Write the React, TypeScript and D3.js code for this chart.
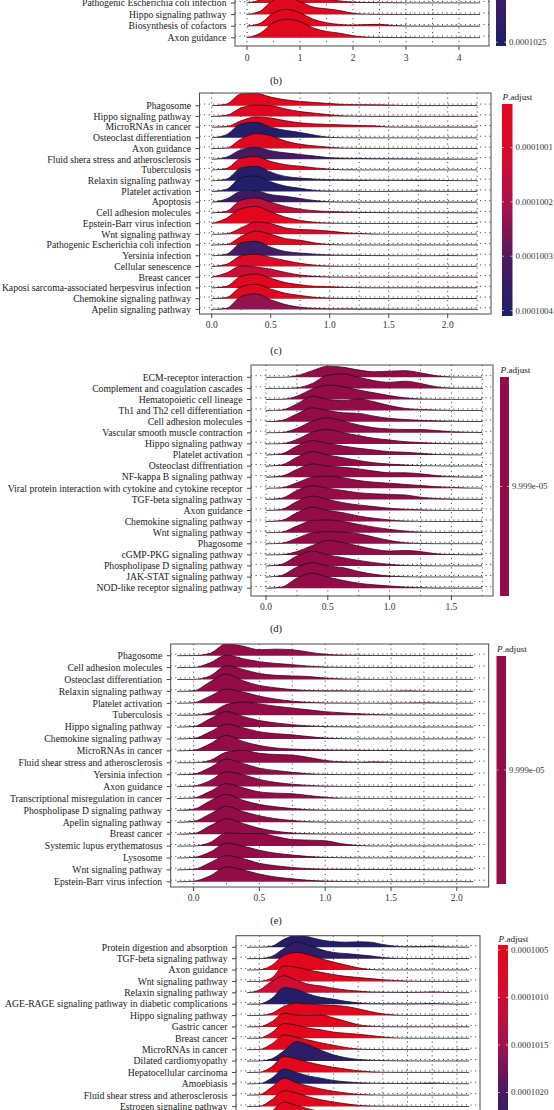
import React, { useEffect, useRef } from 'react';
import * as d3 from 'd3';

const FONT = "'Liberation Serif', 'Times New Roman', serif";

// ---------------- Panel (b) (top, partly cut off) ----------------
const bTerms = [
  'Pathogenic Escherichia coli infection',
  'Hippo signaling pathway',
  'Biosynthesis of cofactors',
  'Axon guidance',
];
const bPadjust = [0.0001001, 0.0001001, 0.0001001, 0.0001001];
const bXs = [0, 0.25, 0.5, 0.75, 1, 1.25, 1.5, 1.75, 2, 2.25, 2.5, 2.75, 3, 3.25, 3.5, 3.75, 4, 4.25, 4.4];
const bRidges = [
  [0.01, 0.3, 1.3, 1.6, 1.2, 0.65, 0.35, 0.18, 0.08, 0.04, 0.03, 0.02, 0.01, 0.01, 0.01, 0.01, 0.01, 0.01, 0.01],
  [0.01, 0.3, 1.25, 1.5, 1.1, 0.65, 0.5, 0.35, 0.12, 0.04, 0.02, 0.02, 0.01, 0.01, 0.01, 0.01, 0.01, 0.01, 0.01],
  [0.01, 0.25, 1.15, 1.45, 1.15, 0.6, 0.3, 0.15, 0.1, 0.14, 0.16, 0.06, 0.02, 0.01, 0.01, 0.01, 0.01, 0.01, 0.01],
  [0.02, 0.4, 1.3, 1.6, 1.4, 0.85, 0.55, 0.4, 0.18, 0.06, 0.03, 0.02, 0.02, 0.01, 0.01, 0.01, 0.01, 0.01, 0.01],
];
const bTicks = [0, 1, 2, 3, 4];
const bGrid = [0, 0.5, 1, 1.5, 2, 2.5, 3, 3.5, 4];
const bLegend = [0.0001025];

// ---------------- Panel (c) ----------------
const cTerms = [
  'Phagosome',
  'Hippo signaling pathway',
  'MicroRNAs in cancer',
  'Osteoclast differentiation',
  'Axon guidance',
  'Fluid shera stress and atherosclerosis',
  'Tuberculosis',
  'Relaxin signaling pathway',
  'Platelet activation',
  'Apoptosis',
  'Cell adhesion molecules',
  'Epstein-Barr virus infection',
  'Wnt signaling pathway',
  'Pathogenic Escherichia coli infection',
  'Yersinia infection',
  'Cellular senescence',
  'Breast cancer',
  'Kaposi sarcoma-associated herpesvirus infection',
  'Chemokine signaling pathway',
  'Apelin signaling pathway',
];
const cPadjust = [
  0.000100032, 0.000100055, 0.000100043, 0.000100394, 0.000100047,
  0.000100324, 0.000100051, 0.000100387, 0.000100398, 0.00010034,
  0.000100157, 0.000100028, 0.00010009, 0.000100036, 0.000100332,
  0.000100082, 0.000100137, 0.00010004, 0.000100043, 0.000100235,
];
const cXs = [0, 0.125, 0.25, 0.375, 0.5, 0.625, 0.75, 0.875, 1, 1.125, 1.25, 1.375, 1.5, 1.625, 1.75, 1.875, 2, 2.125, 2.25];
const cRidges = [
  [0, 0.15, 1.1, 1.15, 0.8, 0.55, 0.4, 0.3, 0.2, 0.12, 0.1, 0.08, 0.06, 0.02, 0.01, 0.01, 0.01, 0.01, 0.01],
  [0, 0.1, 0.8, 1.05, 1.0, 0.7, 0.45, 0.3, 0.15, 0.05, 0.02, 0.01, 0.01, 0.01, 0.01, 0.01, 0.01, 0.01, 0.01],
  [0, 0.05, 0.6, 0.95, 0.85, 0.6, 0.4, 0.3, 0.25, 0.2, 0.15, 0.12, 0.02, 0.01, 0.01, 0.01, 0.01, 0.01, 0.01],
  [0, 0.3, 1.3, 1.45, 1.0, 0.7, 0.5, 0.25, 0.05, 0.01, 0, 0, 0, 0, 0, 0, 0, 0, 0],
  [0, 0.05, 0.9, 1.4, 1.2, 0.7, 0.4, 0.25, 0.12, 0.04, 0.02, 0.01, 0.01, 0.01, 0.01, 0.01, 0.01, 0.01, 0.01],
  [0, 0.2, 0.9, 1.1, 0.8, 0.6, 0.45, 0.3, 0.15, 0.1, 0.08, 0.06, 0.05, 0.04, 0.03, 0.03, 0.02, 0.02, 0.01],
  [0, 0.15, 1.1, 1.25, 0.8, 0.5, 0.35, 0.2, 0.08, 0.02, 0.01, 0.01, 0.01, 0.01, 0.01, 0.01, 0.01, 0.01, 0.01],
  [0, 0.15, 1.2, 1.35, 0.8, 0.4, 0.25, 0.15, 0.1, 0.08, 0.06, 0.05, 0.05, 0.04, 0.06, 0.04, 0.02, 0.01, 0.01],
  [0, 0.2, 1.3, 1.45, 0.9, 0.5, 0.3, 0.1, 0.04, 0.02, 0.01, 0.01, 0.01, 0.02, 0.05, 0.02, 0.01, 0.01, 0.01],
  [0, 0.3, 1.0, 1.05, 0.7, 0.55, 0.35, 0.15, 0.04, 0.01, 0.01, 0.01, 0.01, 0.01, 0.01, 0.01, 0.01, 0.01, 0.01],
  [0, 0.15, 1.2, 1.4, 1.0, 0.6, 0.35, 0.2, 0.12, 0.08, 0.05, 0.03, 0.02, 0.01, 0.01, 0.01, 0.01, 0.01, 0.01],
  [0, 0.5, 1.4, 1.6, 1.1, 0.6, 0.3, 0.12, 0.05, 0.02, 0.01, 0.01, 0.01, 0.01, 0.01, 0.01, 0.01, 0.01, 0.01],
  [0, 0.05, 0.6, 1.15, 1.0, 0.6, 0.45, 0.4, 0.3, 0.15, 0.08, 0.03, 0.01, 0.01, 0.01, 0.01, 0.01, 0.01, 0.01],
  [0, 0.05, 0.8, 1.3, 1.0, 0.6, 0.45, 0.2, 0.05, 0.01, 0.01, 0.01, 0.01, 0.01, 0.01, 0.01, 0.01, 0.01, 0.01],
  [0, 0.15, 1.2, 1.35, 0.8, 0.4, 0.25, 0.15, 0.08, 0.05, 0.03, 0.02, 0.01, 0.01, 0.01, 0.01, 0.02, 0.01, 0.01],
  [0, 0.2, 1.0, 1.15, 0.85, 0.55, 0.3, 0.12, 0.04, 0.01, 0.01, 0.01, 0.01, 0.01, 0.01, 0.01, 0.01, 0.01, 0.01],
  [0, 0.4, 1.05, 0.95, 0.75, 0.45, 0.2, 0.08, 0.03, 0.01, 0.01, 0.01, 0.01, 0.01, 0.01, 0.01, 0.01, 0.01, 0.01],
  [0, 0.15, 1.1, 1.3, 0.9, 0.5, 0.3, 0.15, 0.12, 0.05, 0.02, 0.01, 0.01, 0.01, 0.01, 0.01, 0.01, 0.01, 0.01],
  [0, 0.1, 1.1, 1.35, 0.9, 0.5, 0.3, 0.12, 0.05, 0.02, 0.01, 0.01, 0.01, 0.01, 0.01, 0.01, 0.01, 0.01, 0.01],
  [0, 0.1, 1.2, 1.45, 0.9, 0.45, 0.2, 0.1, 0.05, 0.05, 0.04, 0.04, 0.03, 0.02, 0.01, 0.01, 0.01, 0.01, 0.01],
];
const cTicks = [0, 0.5, 1, 1.5, 2];
const cGrid = [0, 0.25, 0.5, 0.75, 1, 1.25, 1.5, 1.75, 2, 2.25];
const cLegend = [0.0001001, 0.0001002, 0.0001003, 0.0001004];

// ---------------- Panel (d) ----------------
const dTerms = [
  'ECM-receptor interaction',
  'Complement and coagulation cascades',
  'Hematopoietic cell lineage',
  'Th1 and Th2 cell differentiation',
  'Cell adhesion molecules',
  'Vascular smooth muscle contraction',
  'Hippo signaling pathway',
  'Platelet activation',
  'Osteoclast diffrentiation',
  'NF-kappa B signaling pathway',
  'Viral protein interaction with cytokine and cytokine receptor',
  'TGF-beta signaling pathway',
  'Axon guidance',
  'Chemokine signaling pathway',
  'Wnt signaling pathway',
  'Phagosome',
  'cGMP-PKG signaling pathway',
  'Phospholipase D signaling pathway',
  'JAK-STAT signaling pathway',
  'NOD-like receptor signaling pathway',
];
const dPadjust = new Array(20).fill(0.00009999);
const dXs = [0, 0.125, 0.25, 0.375, 0.5, 0.625, 0.75, 0.875, 1, 1.125, 1.25, 1.375, 1.5, 1.625, 1.75];
const dRidges = [
  [0, 0, 0.15, 0.6, 1.0, 0.9, 0.65, 0.5, 0.55, 0.6, 0.4, 0.15, 0.03, 0.01, 0.01],
  [0, 0, 0.05, 0.45, 1.2, 1.3, 1.0, 0.7, 0.55, 0.65, 0.45, 0.15, 0.03, 0.01, 0.01],
  [0, 0.02, 0.3, 0.95, 1.3, 1.15, 0.85, 0.6, 0.35, 0.15, 0.05, 0.02, 0.01, 0.01, 0.01],
  [0, 0.05, 0.6, 1.3, 1.0, 0.9, 1.05, 0.8, 0.45, 0.2, 0.1, 0.05, 0.02, 0.01, 0.01],
  [0, 0.1, 0.7, 1.25, 1.0, 0.8, 0.75, 0.5, 0.3, 0.2, 0.12, 0.08, 0.05, 0.02, 0.01],
  [0, 0.02, 0.4, 1.05, 1.35, 1.05, 0.7, 0.45, 0.35, 0.3, 0.3, 0.2, 0.1, 0.05, 0.02],
  [0, 0.02, 0.4, 1.05, 1.3, 1.0, 0.75, 0.5, 0.35, 0.2, 0.12, 0.05, 0.02, 0.01, 0.01],
  [0, 0.1, 0.8, 1.3, 1.05, 0.8, 0.6, 0.45, 0.3, 0.25, 0.15, 0.05, 0.02, 0.01, 0.01],
  [0, 0.1, 0.8, 1.3, 1.0, 0.75, 0.5, 0.3, 0.18, 0.1, 0.04, 0.02, 0.01, 0.01, 0.01],
  [0, 0.1, 0.7, 1.2, 1.0, 0.9, 0.75, 0.55, 0.4, 0.4, 0.3, 0.15, 0.05, 0.02, 0.01],
  [0, 0.05, 0.5, 1.0, 1.1, 0.95, 0.7, 0.55, 0.45, 0.35, 0.25, 0.15, 0.08, 0.03, 0.01],
  [0, 0.1, 0.8, 1.25, 1.0, 0.8, 0.6, 0.5, 0.45, 0.4, 0.2, 0.08, 0.03, 0.01, 0.01],
  [0, 0.1, 0.8, 1.3, 1.0, 0.7, 0.5, 0.35, 0.2, 0.12, 0.06, 0.02, 0.01, 0.01, 0.01],
  [0, 0.1, 0.8, 1.3, 1.0, 0.8, 0.5, 0.3, 0.15, 0.05, 0.02, 0.01, 0.01, 0.01, 0.01],
  [0, 0.05, 0.6, 1.1, 1.15, 1.0, 0.75, 0.5, 0.3, 0.15, 0.05, 0.02, 0.01, 0.01, 0.01],
  [0, 0.05, 0.5, 1.0, 1.1, 1.05, 0.9, 0.6, 0.3, 0.1, 0.03, 0.01, 0.01, 0.01, 0.01],
  [0, 0.02, 0.3, 0.85, 1.3, 1.1, 0.8, 0.5, 0.35, 0.4, 0.3, 0.1, 0.03, 0.01, 0.01],
  [0, 0.15, 0.9, 1.35, 1.0, 0.75, 0.5, 0.3, 0.15, 0.05, 0.02, 0.01, 0.01, 0.01, 0.01],
  [0, 0.15, 0.9, 1.3, 1.0, 0.85, 0.5, 0.25, 0.1, 0.03, 0.01, 0.01, 0.01, 0.01, 0.01],
  [0, 0.1, 0.9, 1.35, 1.0, 0.7, 0.45, 0.3, 0.2, 0.1, 0.05, 0.02, 0.01, 0.01, 0.01],
];
const dTicks = [0, 0.5, 1, 1.5];
const dGrid = [0, 0.25, 0.5, 0.75, 1, 1.25, 1.5, 1.75];
const dLegend = [0.00009999];

// ---------------- Panel (e) ----------------
const eTerms = [
  'Phagosome',
  'Cell adhesion molecules',
  'Osteoclast differentiation',
  'Relaxin signaling pathway',
  'Platelet activation',
  'Tuberculosis',
  'Hippo signaling pathway',
  'Chemokine signaling pathway',
  'MicroRNAs in cancer',
  'Fluid shear stress and atherosclerosis',
  'Yersinia infection',
  'Axon guidance',
  'Transcriptional misregulation in cancer',
  'Phospholipase D signaling pathway',
  'Apelin signaling pathway',
  'Breast cancer',
  'Systemic lupus erythematosus',
  'Lysosome',
  'Wnt signaling pathway',
  'Epstein-Barr virus infection',
];
const ePadjust = new Array(20).fill(0.00009999);
const eXs = [-0.125, 0, 0.125, 0.25, 0.375, 0.5, 0.625, 0.75, 0.875, 1, 1.125, 1.25, 1.375, 1.5, 1.625, 1.75, 1.875, 2, 2.125];
const eRidges = [
  [0, 0.01, 0.2, 1.0, 0.8, 0.5, 0.55, 0.5, 0.3, 0.12, 0.05, 0.03, 0.02, 0.01, 0.01, 0.01, 0.01, 0.01, 0.01],
  [0, 0.01, 0.4, 1.05, 0.75, 0.5, 0.35, 0.25, 0.12, 0.05, 0.02, 0.01, 0.01, 0.01, 0.01, 0.01, 0.01, 0.01, 0.01],
  [0, 0.01, 0.3, 1.15, 0.85, 0.5, 0.35, 0.3, 0.25, 0.12, 0.05, 0.02, 0.01, 0.01, 0.01, 0.01, 0.01, 0.01, 0.01],
  [0, 0.05, 0.8, 1.45, 0.9, 0.5, 0.3, 0.15, 0.08, 0.05, 0.06, 0.03, 0.01, 0.02, 0.05, 0.02, 0.01, 0.01, 0.01],
  [0, 0.05, 0.6, 1.2, 0.95, 0.6, 0.35, 0.18, 0.08, 0.03, 0.02, 0.01, 0.01, 0.02, 0.03, 0.04, 0.02, 0.01, 0.01],
  [0, 0.01, 0.2, 0.9, 1.1, 0.95, 0.75, 0.6, 0.45, 0.3, 0.2, 0.12, 0.05, 0.02, 0.01, 0.01, 0.01, 0.01, 0.01],
  [0, 0.05, 0.7, 1.3, 0.9, 0.55, 0.35, 0.2, 0.1, 0.04, 0.02, 0.01, 0.01, 0.01, 0.01, 0.01, 0.01, 0.01, 0.01],
  [0, 0.05, 0.6, 1.25, 0.95, 0.6, 0.45, 0.35, 0.2, 0.08, 0.03, 0.01, 0.01, 0.01, 0.01, 0.01, 0.01, 0.01, 0.01],
  [0, 0.05, 0.6, 1.3, 0.8, 0.45, 0.25, 0.15, 0.1, 0.08, 0.06, 0.05, 0.04, 0.03, 0.02, 0.01, 0.01, 0.01, 0.01],
  [0, 0.01, 0.2, 0.9, 1.05, 0.8, 0.7, 0.65, 0.45, 0.2, 0.08, 0.05, 0.08, 0.05, 0.02, 0.01, 0.01, 0.01, 0.01],
  [0, 0.05, 0.6, 1.3, 0.95, 0.55, 0.35, 0.2, 0.08, 0.02, 0.01, 0.01, 0.01, 0.01, 0.01, 0.01, 0.01, 0.01, 0.01],
  [0, 0.05, 0.5, 1.25, 1.0, 0.6, 0.35, 0.2, 0.1, 0.04, 0.01, 0.01, 0.01, 0.01, 0.01, 0.01, 0.01, 0.01, 0.01],
  [0, 0.05, 0.6, 1.25, 0.9, 0.55, 0.45, 0.4, 0.25, 0.1, 0.03, 0.01, 0.01, 0.01, 0.01, 0.01, 0.01, 0.01, 0.01],
  [0, 0.1, 0.8, 1.35, 0.85, 0.5, 0.3, 0.15, 0.06, 0.02, 0.01, 0.01, 0.01, 0.01, 0.01, 0.01, 0.01, 0.01, 0.01],
  [0, 0.08, 0.7, 1.35, 0.9, 0.55, 0.3, 0.15, 0.05, 0.02, 0.01, 0.01, 0.01, 0.01, 0.01, 0.01, 0.01, 0.01, 0.01],
  [0, 0.05, 0.7, 1.3, 0.9, 0.5, 0.25, 0.1, 0.04, 0.02, 0.01, 0.01, 0.01, 0.01, 0.01, 0.01, 0.01, 0.01, 0.01],
  [0, 0.01, 0.3, 1.1, 1.05, 1.05, 0.8, 0.55, 0.5, 0.45, 0.2, 0.05, 0.01, 0.01, 0.01, 0.01, 0.01, 0.01, 0.01],
  [0, 0.05, 0.5, 1.25, 1.0, 0.65, 0.4, 0.25, 0.12, 0.05, 0.02, 0.01, 0.01, 0.01, 0.01, 0.01, 0.01, 0.01, 0.01],
  [0, 0.05, 0.6, 1.2, 0.95, 0.55, 0.35, 0.2, 0.1, 0.06, 0.05, 0.04, 0.04, 0.04, 0.03, 0.02, 0.01, 0.01, 0.01],
  [0, 0.05, 0.5, 1.25, 1.0, 0.65, 0.4, 0.25, 0.12, 0.06, 0.03, 0.01, 0.01, 0.01, 0.01, 0.01, 0.01, 0.01, 0.01],
];
const eTicks = [0, 0.5, 1, 1.5, 2];
const eGrid = [0, 0.25, 0.5, 0.75, 1, 1.25, 1.5, 1.75, 2];
const eLegend = [0.00009999];

// ---------------- Panel (f) (bottom, partly cut off) ----------------
const fTerms = [
  'Protein digestion and absorption',
  'TGF-beta signaling pathway',
  'Axon guidance',
  'Wnt signaling pathway',
  'Relaxin signaling pathway',
  'AGE-RAGE signaling pathway in diabetic complications',
  'Hippo signaling pathway',
  'Gastric cancer',
  'Breast cancer',
  'MicroRNAs in cancer',
  'Dilated cardiomyopathy',
  'Hepatocellular carcinoma',
  'Amoebiasis',
  'Fluid shear stress and atherosclerosis',
  'Estrogen signaling pathway',
];
// two further rows continue below the visible edge (their labels are outside the picture)
const fPadjust = [
  0.0001024, 0.0001023, 0.0001005, 0.0001006, 0.000101, 0.0001024, 0.0001005, 0.0001005, 0.0001005,
  0.0001005, 0.0001023, 0.0001005, 0.0001024, 0.0001005, 0.0001005, 0.0001005, 0.0001023,
];
const fXs = [-0.125, 0, 0.125, 0.25, 0.375, 0.5, 0.625, 0.75, 0.875, 1, 1.125, 1.25, 1.375, 1.5, 1.625, 1.75, 1.875, 2, 2.125];
const fRidges = [
  [0, 0.01, 0.1, 0.7, 1.05, 0.9, 0.65, 0.5, 0.45, 0.48, 0.45, 0.25, 0.1, 0.05, 0.06, 0.08, 0.04, 0.02, 0.01],
  [0, 0.01, 0.2, 0.9, 1.45, 1.2, 0.8, 0.55, 0.45, 0.35, 0.25, 0.1, 0.03, 0.01, 0.01, 0.01, 0.01, 0.01, 0.01],
  [0, 0.02, 0.4, 1.3, 1.55, 1.35, 1.0, 0.7, 0.45, 0.2, 0.05, 0.01, 0.01, 0.01, 0.01, 0.01, 0.01, 0.01, 0.01],
  [0, 0.01, 0.3, 1.35, 1.25, 1.0, 0.8, 0.6, 0.45, 0.35, 0.25, 0.15, 0.08, 0.03, 0.01, 0.01, 0.01, 0.01, 0.01],
  [0, 0.25, 1.0, 1.5, 1.1, 0.75, 0.6, 0.4, 0.25, 0.15, 0.08, 0.05, 0.05, 0.04, 0.05, 0.08, 0.04, 0.01, 0.01],
  [0, 0.02, 0.5, 1.45, 1.3, 0.9, 0.6, 0.45, 0.25, 0.12, 0.05, 0.04, 0.03, 0.03, 0.04, 0.06, 0.03, 0.01, 0.01],
  [0, 0.01, 0.2, 0.8, 1.1, 1.0, 0.95, 0.9, 0.8, 0.6, 0.35, 0.15, 0.05, 0.01, 0.01, 0.01, 0.01, 0.01, 0.01],
  [0, 0.02, 0.45, 1.2, 1.05, 1.0, 1.05, 0.8, 0.5, 0.2, 0.07, 0.02, 0.01, 0.01, 0.01, 0.01, 0.01, 0.01, 0.01],
  [0, 0.02, 0.5, 1.3, 1.15, 0.9, 0.75, 0.55, 0.45, 0.35, 0.25, 0.12, 0.04, 0.01, 0.01, 0.01, 0.01, 0.01, 0.01],
  [0, 0.02, 0.5, 1.3, 1.1, 0.85, 0.6, 0.4, 0.2, 0.06, 0.02, 0.01, 0.01, 0.01, 0.01, 0.01, 0.01, 0.01, 0.01],
  [0, 0.01, 0.2, 0.9, 1.7, 1.4, 0.95, 0.55, 0.3, 0.15, 0.08, 0.04, 0.02, 0.01, 0.01, 0.01, 0.01, 0.01, 0.01],
  [0, 0.02, 0.5, 1.4, 1.2, 0.9, 0.65, 0.45, 0.3, 0.15, 0.06, 0.02, 0.01, 0.01, 0.01, 0.01, 0.01, 0.01, 0.01],
  [0, 0.02, 0.5, 1.3, 1.0, 0.7, 0.5, 0.3, 0.18, 0.1, 0.06, 0.04, 0.03, 0.03, 0.05, 0.07, 0.03, 0.01, 0.01],
  [0, 0.05, 0.7, 1.5, 1.1, 0.8, 0.55, 0.35, 0.2, 0.08, 0.03, 0.01, 0.01, 0.01, 0.01, 0.01, 0.01, 0.01, 0.01],
  [0, 0.03, 0.6, 1.4, 1.2, 0.85, 0.6, 0.4, 0.25, 0.12, 0.06, 0.04, 0.03, 0.02, 0.01, 0.01, 0.01, 0.01, 0.01],
  [0, 0.03, 0.6, 1.4, 1.1, 0.8, 0.55, 0.35, 0.2, 0.1, 0.05, 0.02, 0.01, 0.01, 0.01, 0.01, 0.01, 0.01, 0.01],
  [0, 0.02, 0.5, 1.3, 1.2, 0.8, 0.5, 0.3, 0.15, 0.08, 0.04, 0.02, 0.01, 0.01, 0.01, 0.01, 0.01, 0.01, 0.01],
];
const fTicks: number[] = [];
const fGrid = [0, 0.25, 0.5, 0.75, 1, 1.25, 1.5, 1.75, 2];
const fLegend = [0.0001005, 0.000101, 0.0001015, 0.000102];

// ---------------- colours ----------------
const paletteStops = [0, 0.25, 0.5, 0.75, 1];
const paletteColors = ['#e4061b', '#d40c30', '#a3124c', '#4a1a61', '#1b1f6b'];
const palette = d3
  .scaleLinear<string>()
  .domain(paletteStops)
  .range(paletteColors)
  .interpolate(d3.interpolateRgb)
  .clamp(true);
const SOLID = '#930c48';

const fmtP = (v: number) => {
  if (v < 0.0001) return v.toExponential(3).replace(/e-(\d)$/, 'e-0$1');
  return d3.format('.7f')(v);
};

type Panel = {
  id: string;
  terms: string[];
  padj: number[];
  xs: number[];
  ridges: number[][];
  ticks: number[];
  tickFmt: (v: number) => string;
  grid: number[];
  legend: number[];
  box: { l: number; r: number; t: number; b: number };
  x0: number;
  unit: number;
  row0: number;
  rowStep: number;
  tickY: number;
  tag?: string;
  tagY?: number;
  bar: { x: number; w: number; t: number; b: number; pTop: number; pBot: number; solid?: boolean; titleY?: number };
};

const panels: Panel[] = [
  {
    id: 'b', terms: bTerms, padj: bPadjust, xs: bXs, ridges: bRidges, ticks: bTicks, tickFmt: d3.format('d'),
    grid: bGrid, legend: bLegend,
    box: { l: 235, r: 489, t: -60, b: 46 }, x0: 247, unit: 53, row0: 3, rowStep: 11.6, tickY: 57.5,
    tag: '(b)', tagY: 80,
    bar: { x: 496, w: 10, t: -198, b: 46, pTop: 0.0001, pBot: 0.00010254 },
  },
  {
    id: 'c', terms: cTerms, padj: cPadjust, xs: cXs, ridges: cRidges, ticks: cTicks, tickFmt: d3.format('.1f'),
    grid: cGrid, legend: cLegend,
    box: { l: 199.5, r: 491, t: 93, b: 314 }, x0: 211.7, unit: 118, row0: 105.7, rowStep: 10.72, tickY: 325,
    tag: '(c)', tagY: 350,
    bar: { x: 502, w: 10.5, t: 104, b: 316, pTop: 0.00010002, pBot: 0.00010041, titleY: 97 },
  },
  {
    id: 'd', terms: dTerms, padj: dPadjust, xs: dXs, ridges: dRidges, ticks: dTicks, tickFmt: d3.format('.1f'),
    grid: dGrid, legend: dLegend,
    box: { l: 251, r: 493, t: 365, b: 596 }, x0: 266, unit: 123.6, row0: 377.3, rowStep: 11.1, tickY: 607,
    tag: '(d)', tagY: 628,
    bar: { x: 500, w: 9, t: 377, b: 596, pTop: 0, pBot: 1, solid: true, titleY: 370 },
  },
  {
    id: 'e', terms: eTerms, padj: ePadjust, xs: eXs, ridges: eRidges, ticks: eTicks, tickFmt: d3.format('.1f'),
    grid: eGrid, legend: eLegend,
    box: { l: 170.7, r: 488.7, t: 644, b: 887 }, x0: 193.6, unit: 131.6, row0: 655.7, rowStep: 11.9, tickY: 898,
    tag: '(e)', tagY: 920,
    bar: { x: 496.5, w: 9.5, t: 656, b: 884, pTop: 0, pBot: 1, solid: true, titleY: 649 },
  },
  {
    id: 'f', terms: fTerms, padj: fPadjust, xs: fXs, ridges: fRidges, ticks: fTicks, tickFmt: d3.format('.1f'),
    grid: fGrid, legend: fLegend,
    box: { l: 236, r: 480, t: 935.7, b: 1150 }, x0: 259.3, unit: 98.8, row0: 947.3, rowStep: 11.38, tickY: 1162,
    bar: { x: 498, w: 10, t: 945, b: 1140, pTop: 0.00010044737, pBot: 0.0001025, titleY: 939 },
  },
];

function drawPanel(root: d3.Selection<SVGSVGElement, unknown, null, undefined>, c: Panel) {
  const g = root.append('g').attr('class', `panel-${c.id}`);
  const { l, r, t, b } = c.box;
  const x = d3.scaleLinear().domain([(l - c.x0) / c.unit, (r - c.x0) / c.unit]).range([l, r]);
  const rowY = d3.scaleLinear().domain([0, 1]).range([c.row0, c.row0 + c.rowStep]);
  const pScale = d3.scaleLinear().domain([c.bar.pTop, c.bar.pBot]).range([0, 1]);
  const fillFor = (p: number) => (c.bar.solid ? SOLID : palette(pScale(p)));

  const clipId = `clip-${c.id}`;
  root.append('clipPath').attr('id', clipId).append('rect').attr('x', l).attr('y', t).attr('width', r - l).attr('height', b - t);

  const inner = g.append('g').attr('clip-path', `url(#${clipId})`);
  inner.append('rect').attr('x', l).attr('y', t).attr('width', r - l).attr('height', b - t).attr('fill', '#fff');

  // dotted grid
  const gridG = inner.append('g').attr('stroke', '#1e1e1e').attr('stroke-width', 0.9).attr('stroke-dasharray', '1 3.6');
  c.grid.forEach((v) => {
    gridG.append('line').attr('x1', x(v)).attr('x2', x(v)).attr('y1', t).attr('y2', b);
  });
  c.ridges.forEach((_, i) => {
    const yy = rowY(i) - 1.6;
    gridG.append('line').attr('x1', l).attr('x2', r).attr('y1', yy).attr('y2', yy);
  });

  // ridges, top row first so lower rows overlap the ones above
  const ridgeG = inner.append('g');
  c.ridges.forEach((hs, i) => {
    const base = rowY(i);
    const pts: [number, number][] = hs.map((h, k) => [c.xs[k], h]);
    const area = d3
      .area<[number, number]>()
      .x((d) => x(d[0]))
      .y0(base)
      .y1((d) => base - d[1] * c.rowStep)
      .curve(d3.curveMonotoneX);
    const line = d3
      .line<[number, number]>()
      .x((d) => x(d[0]))
      .y((d) => base - d[1] * c.rowStep)
      .curve(d3.curveMonotoneX);
    ridgeG.append('path').attr('d', area(pts) as string).attr('fill', fillFor(c.padj[i]));
    ridgeG
      .append('path')
      .attr('d', line(pts) as string)
      .attr('fill', 'none')
      .attr('stroke', '#111')
      .attr('stroke-width', 0.75);
  });

  // frame
  g.append('rect')
    .attr('x', l).attr('y', t).attr('width', r - l).attr('height', b - t)
    .attr('fill', 'none').attr('stroke', '#4a4a4a').attr('stroke-width', 1);

  // y axis: ticks + labels
  const yAx = g.append('g');
  c.ridges.forEach((_, i) => {
    const yy = rowY(i);
    yAx.append('line').attr('x1', l - 4).attr('x2', l).attr('y1', yy).attr('y2', yy).attr('stroke', '#333').attr('stroke-width', 0.9);
  });
  c.terms.forEach((term, i) => {
    const yy = rowY(i);
    yAx
      .append('text')
      .attr('x', l - 8.5)
      .attr('y', yy)
      .attr('dy', '0.34em')
      .attr('text-anchor', 'end')
      .attr('font-family', FONT)
      .attr('font-size', 9.7)
      .attr('fill', '#1a1a1a')
      .text(term);
  });

  // x axis
  const xAx = g.append('g');
  c.ticks.forEach((v) => {
    xAx.append('line').attr('x1', x(v)).attr('x2', x(v)).attr('y1', b).attr('y2', b + 4).attr('stroke', '#333').attr('stroke-width', 0.9);
    xAx
      .append('text')
      .attr('x', x(v))
      .attr('y', c.tickY)
      .attr('dy', '0.34em')
      .attr('text-anchor', 'middle')
      .attr('font-family', FONT)
      .attr('font-size', 9.5)
      .attr('fill', '#333')
      .text(c.tickFmt(v));
  });

  if (c.tag) {
    g.append('text')
      .attr('x', 276)
      .attr('y', c.tagY as number)
      .attr('dy', '0.34em')
      .attr('text-anchor', 'middle')
      .attr('font-family', FONT)
      .attr('font-size', 10.5)
      .attr('fill', '#222')
      .text(c.tag);
  }

  // colour bar
  const bar = c.bar;
  const barG = g.append('g');
  const barY = d3.scaleLinear().domain([bar.pTop, bar.pBot]).range([bar.t, bar.b]);
  if (bar.solid) {
    barG.append('rect').attr('x', bar.x).attr('y', bar.t).attr('width', bar.w).attr('height', bar.b - bar.t).attr('fill', SOLID);
  } else {
    const gradId = `grad-${c.id}`;
    const grad = root.append('defs').append('linearGradient').attr('id', gradId).attr('x1', 0).attr('x2', 0).attr('y1', 0).attr('y2', 1);
    d3.range(0, 1.0001, 0.05).forEach((s) => {
      grad.append('stop').attr('offset', s).attr('stop-color', palette(s));
    });
    barG.append('rect').attr('x', bar.x).attr('y', bar.t).attr('width', bar.w).attr('height', bar.b - bar.t).attr('fill', `url(#${gradId})`);
  }
  if (bar.titleY !== undefined) {
    const title = barG
      .append('text')
      .attr('x', bar.x + 0.5)
      .attr('y', bar.titleY)
      .attr('dy', '0.34em')
      .attr('font-family', FONT)
      .attr('font-size', 9.2)
      .attr('fill', '#222');
    title.append('tspan').attr('font-style', 'italic').text('P');
    title.append('tspan').text('.adjust');
  }

  c.legend.forEach((v) => {
    const yy = bar.solid ? (bar.t + bar.b) / 2 : barY(v);
    barG.append('line').attr('x1', bar.x).attr('x2', bar.x + 2).attr('y1', yy).attr('y2', yy).attr('stroke', '#fff').attr('stroke-width', 0.6);
    barG.append('line').attr('x1', bar.x + bar.w - 2).attr('x2', bar.x + bar.w).attr('y1', yy).attr('y2', yy).attr('stroke', '#fff').attr('stroke-width', 0.6);
    barG
      .append('text')
      .attr('x', bar.x + bar.w + 3)
      .attr('y', yy)
      .attr('dy', '0.34em')
      .attr('font-family', FONT)
      .attr('font-size', 8.8)
      .attr('fill', '#333')
      .text(fmtP(v));
  });
}

export default function App() {
  const ref = useRef<SVGSVGElement>(null);
  useEffect(() => {
    if (!ref.current) return;
    const svg = d3.select(ref.current);
    svg.selectAll('*').remove();
    panels.forEach((p) => drawPanel(svg, p));
  }, []);
  return (
    <svg
      ref={ref}
      width={554}
      height={1110}
      viewBox="0 0 554 1110"
      style={{ position: 'absolute', left: 0, top: 0, background: '#fff', display: 'block' }}
    />
  );
}
